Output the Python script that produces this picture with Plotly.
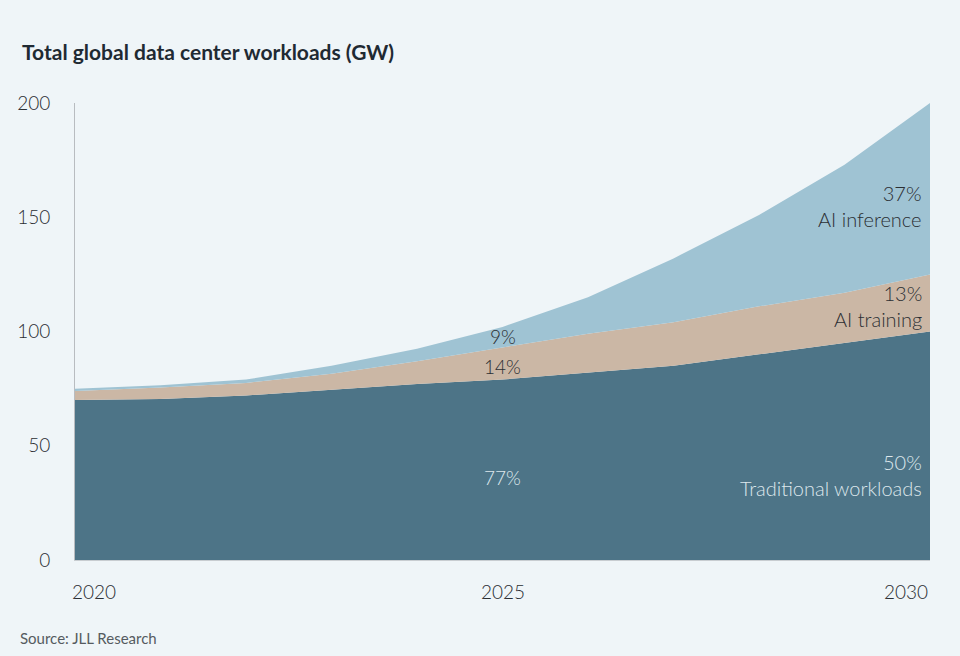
import plotly.graph_objects as go

years = [2020, 2021, 2022, 2023, 2024, 2025, 2026, 2027, 2028, 2029, 2030]
traditional = [70, 70.5, 72, 74.5, 77, 79, 82, 85, 90, 95, 100]
ai_training = [4, 5, 5.5, 7, 10, 14, 17, 19, 21, 22, 25]
ai_inference = [1, 1, 1.5, 3.5, 5.5, 9, 16, 28, 40, 56, 75]

y_ticks = [0, 50, 100, 150, 200]
x_ticks = [2020, 2025, 2030]

FONT = "Source Sans Pro, Lato, Open Sans, sans-serif"
BG = "#eff5f8"
DARK = "#2b2f33"
LIGHT = "#dde7ec"

fig = go.Figure()

series = [
    ("Traditional workloads", traditional, "#4d7487"),
    ("AI training", ai_training, "#cbb7a5"),
    ("AI inference", ai_inference, "#9fc3d3"),
]
for name, vals, col in series:
    fig.add_trace(
        go.Scatter(
            x=years,
            y=vals,
            name=name,
            mode="lines",
            stackgroup="one",
            line=dict(width=0, color=col),
            fillcolor=col,
            hoverinfo="skip",
        )
    )

# end-of-series labels (2030)
t30 = traditional[-1]
tr30 = t30 + ai_training[-1]
tot30 = tr30 + ai_inference[-1]
end_labels = [
    ("50%<br>Traditional workloads", 37, LIGHT),
    ("13%<br>AI training", (t30 + tr30) / 2 - 1.5, DARK),
    ("37%<br>AI inference", (tr30 + tot30) / 2 - 7.5, DARK),
]
for txt, yv, col in end_labels:
    fig.add_annotation(
        x=2030, y=yv, text=txt, showarrow=False, xanchor="right", align="right",
        xshift=-6, font=dict(family=FONT, size=20, color=col, weight=300),
    )

# 2025 share labels
i = years.index(2025)
t25 = traditional[i]
tr25 = t25 + ai_training[i]
lbl_font = dict(family=FONT, size=19, color=DARK, weight=300)
fig.add_annotation(x=2025, y=36, text="77%", showarrow=False,
                   font=dict(lbl_font, color=LIGHT))
fig.add_annotation(x=2025, y=(t25 + tr25) / 2 - 1.5, text="14%", showarrow=False,
                   font=lbl_font)
fig.add_annotation(x=2025, y=tr25 + 4.6, text="9%", showarrow=False,
                   font=lbl_font)

# x tick labels (first left-aligned, last right-aligned)
for k, yr in enumerate(x_ticks):
    anchor = "left" if k == 0 else ("right" if k == len(x_ticks) - 1 else "center")
    fig.add_annotation(
        x=yr, y=0, yref="paper", text=str(yr), showarrow=False,
        xanchor=anchor, yanchor="top", yshift=-18,
        xshift=-5 if k == 0 else 0,
        font=dict(family=FONT, size=19, color=DARK, weight=300),
    )

fig.add_annotation(
    xref="paper", yref="paper", x=-0.0643, y=0.1116 + 1, xanchor="left", yanchor="middle",
    text="<b>Total global data center workloads (GW)</b>", showarrow=False,
    font=dict(family=FONT, size=21, color="#1f2a33"),
)
fig.add_annotation(
    xref="paper", yref="paper", x=-0.0666, y=-0.17, xanchor="left", yanchor="middle",
    text="Source: JLL Research", showarrow=False,
    font=dict(family=FONT, size=15, color="#555b60"),
)

fig.update_layout(
    width=960,
    height=656,
    margin=dict(l=75, r=30, t=103, b=96),
    paper_bgcolor=BG,
    plot_bgcolor=BG,
    showlegend=False,
    font=dict(family=FONT, size=18, color=DARK),
    xaxis=dict(
        range=[2020, 2030],
        tickvals=x_ticks,
        showticklabels=False,
        showgrid=False,
        zeroline=False,
        showline=True,
        linecolor="#c8cdd1",
        linewidth=1,
    ),
    yaxis=dict(
        range=[0, 200],
        tickvals=y_ticks,
        showgrid=False,
        zeroline=False,
        showline=True,
        linecolor="#b8bcc0",
        linewidth=1,
        ticks="",
        ticklabelstandoff=20,
        tickfont=dict(family=FONT, size=19, color=DARK, weight=300),
    ),
)

fig.write_html(
    "out.html",
    config={"displayModeBar": False},
    post_script="document.body.style.margin='0';document.body.style.background='#eff5f8';",
)
